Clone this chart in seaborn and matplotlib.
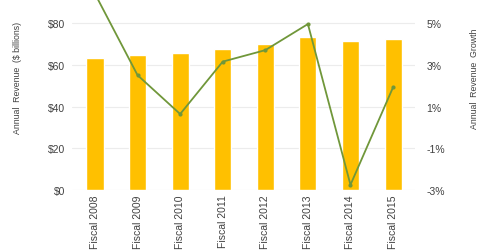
import matplotlib
matplotlib.use("Agg")
import matplotlib.pyplot as plt
import seaborn as sns
import pandas as pd

categories = ["Fiscal 2008", "Fiscal 2009", "Fiscal 2010", "Fiscal 2011",
              "Fiscal 2012", "Fiscal 2013", "Fiscal 2014", "Fiscal 2015"]
revenue = [63.4, 64.8, 65.5, 67.5, 69.9, 73.4, 71.2, 72.5]
growth = [6.4, 2.5, 0.64, 3.15, 3.7, 4.95, -2.75, 1.92]
left_ticks = [0, 20, 40, 60, 80]
left_labels = ["$0", "$20", "$40", "$60", "$80"]
right_ticks = [-3, -1, 1, 3, 5]
right_labels = ["-3%", "-1%", "1%", "3%", "5%"]

sns.set_style("white")
plt.rcParams["font.family"] = ["Liberation Sans", "DejaVu Sans"]
text_color = "#404040"

df = pd.DataFrame({"cat": categories, "rev": revenue, "growth": growth})

fig = plt.figure(figsize=(4.8, 2.51), dpi=100)
ax = fig.add_axes([0.15, 0.239, 0.715, 0.761])
sns.barplot(data=df, x="cat", y="rev", color="#FFC000", saturation=1,
            width=0.4, ax=ax)
ax.set_ylim(0, 91.5)
ax.set_xlim(-0.54, 7.52)
ax.set_yticks(left_ticks)
ax.set_yticklabels(left_labels)
ax.yaxis.grid(True, color="#ececec", linewidth=0.8)
ax.set_axisbelow(True)
for s in ax.spines.values():
    s.set_visible(False)
ax.set_xlabel("")
ax.set_ylabel("Annual  Revenue  ($ billions)", fontsize=6.3, color=text_color)
ax.yaxis.set_label_coords(-0.145, 0.59)
ax.tick_params(axis="both", length=0, labelsize=7.5, colors=text_color)
ax.tick_params(axis="y", pad=5)
ax.tick_params(axis="x", rotation=90, pad=3)

ax2 = ax.twinx()
sns.lineplot(data=df, x="cat", y="growth", sort=False, color="#70973A",
             linewidth=1.3, marker="o", markersize=3, markeredgewidth=0, ax=ax2)
ax2.set_ylim(-3, 6.15)
ax2.set_yticks(right_ticks)
ax2.set_yticklabels(right_labels)
ax2.set_xlim(-0.54, 7.52)
for s in ax2.spines.values():
    s.set_visible(False)
ax2.set_ylabel("Annual  Revenue  Growth", fontsize=6.3, color=text_color)
ax2.yaxis.set_label_coords(1.16, 0.59)
ax2.set_xlabel("")
ax2.tick_params(axis="both", length=0, labelsize=7.5, colors=text_color, pad=8)

fig.savefig("out.png", dpi=100)
